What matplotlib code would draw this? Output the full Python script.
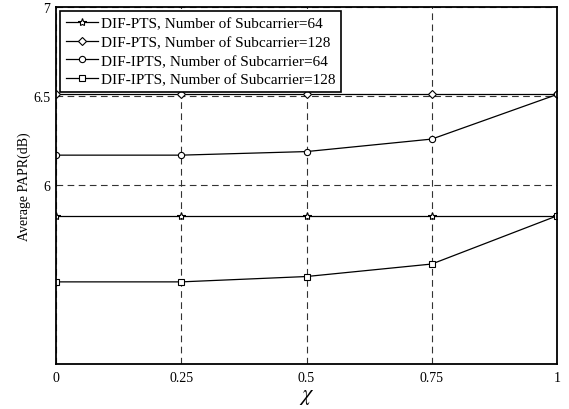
import matplotlib.pyplot as plt

plt.rcParams['font.family'] = ['Liberation Serif', 'DejaVu Serif']
plt.rcParams['mathtext.fontset'] = 'stix'

# data
chi = [0, 0.25, 0.5, 0.75, 1]
pts_64 = [5.83, 5.83, 5.83, 5.83, 5.83]
pts_128 = [6.51, 6.51, 6.51, 6.51, 6.51]
ipts_64 = [6.17, 6.17, 6.19, 6.26, 6.51]
ipts_128 = [5.46, 5.46, 5.49, 5.56, 5.83]

labels = ['DIF-PTS, Number of Subcarrier=64',
          'DIF-PTS, Number of Subcarrier=128',
          'DIF-IPTS, Number of Subcarrier=64',
          'DIF-IPTS, Number of Subcarrier=128']

fig = plt.figure(figsize=(5.69, 4.10), dpi=100)
ax = fig.add_axes([0.0984, 0.1098, 0.8806, 0.8707])

style = dict(color='black', linewidth=0.9, markerfacecolor='white',
             markeredgecolor='black', markeredgewidth=0.8)
ax.plot(chi, pts_64, marker='*', markersize=6, label=labels[0], **style)
ax.plot(chi, pts_128, marker='D', markersize=4.5, label=labels[1], **style)
ax.plot(chi, ipts_64, marker='o', markersize=4.5, label=labels[2], **style)
ax.plot(chi, ipts_128, marker='s', markersize=4.5, label=labels[3], **style)

ax.set_xlim(0, 1)
ax.set_ylim(5, 7)
ax.set_xticks(chi)
ax.set_xticklabels(['0', '0.25', '0.5', '0.75', '1'])
ax.set_yticks([6, 6.5, 7])
ax.set_yticklabels(['6', '6.5', '7'])
ax.tick_params(direction='in', length=0, labelsize=10)
ax.tick_params(axis='x', pad=5)
ax.tick_params(axis='y', pad=4)

ax.grid(True, color='#333333', linestyle=(0, (6, 4)), linewidth=0.8)
for s in ax.spines.values():
    s.set_linewidth(1.3)

ax.set_xlabel(r'$\chi$', fontsize=16, labelpad=2)
ax.set_ylabel('Average PAPR(dB)', fontsize=10, labelpad=2)

leg = ax.legend(loc='upper left', fontsize=11, frameon=True, fancybox=False,
                borderaxespad=0.27, handlelength=2.1, handletextpad=0.2,
                labelspacing=0.32, borderpad=0.38)
leg.get_frame().set_edgecolor('black')
leg.get_frame().set_linewidth(1.2)
leg.get_frame().set_alpha(1)

fig.savefig('out.png', dpi=100)
